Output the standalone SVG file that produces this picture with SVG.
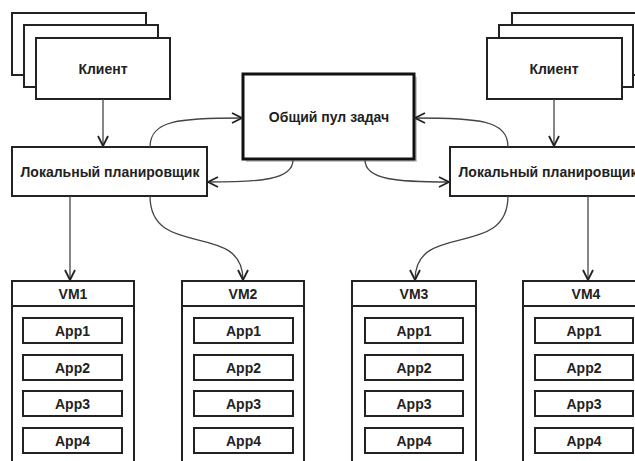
<svg xmlns="http://www.w3.org/2000/svg" width="635" height="461" viewBox="0 0 635 461">
<defs>
<style>
.b{fill:#fff;stroke:#222;stroke-width:2}
.t{font-family:"Liberation Sans",Arial,sans-serif;font-weight:bold;font-size:14px;fill:#222;text-anchor:middle;dominant-baseline:central}
.c{fill:none;stroke:#444;stroke-width:1.3}
</style>
<marker id="ah" viewBox="0 0 12 12" refX="11" refY="6" markerWidth="12" markerHeight="12" markerUnits="userSpaceOnUse" orient="auto">
<path d="M1,1 L11,6 L1,11" fill="none" stroke="#222" stroke-width="1.8"/>
</marker>
</defs>
<rect width="635" height="461" fill="#fff"/>
<g id="client-left">
<rect class="b" x="12" y="13" width="134" height="62"/>
<rect class="b" x="24" y="25" width="134" height="62"/>
<rect class="b" x="36" y="38" width="134" height="61"/>
<text class="t" x="103" y="69">Клиент</text>
</g>
<g id="client-right">
<rect class="b" x="512" y="13" width="134" height="62"/>
<rect class="b" x="499" y="25" width="134" height="62"/>
<rect class="b" x="487" y="38" width="135" height="61"/>
<text class="t" x="554" y="69">Клиент</text>
</g>
<g id="pool">
<rect x="246" y="77" width="171" height="85" fill="#c8c8c8"/>
<rect x="243" y="74" width="171" height="85" fill="#fff" stroke="#111" stroke-width="3"/>
<text class="t" x="329" y="117">Общий пул задач</text>
</g>
<g id="sched-left">
<rect class="b" x="12" y="147" width="195" height="49"/>
<text class="t" x="110" y="172">Локальный планировщик</text>
</g>
<g id="sched-right">
<rect class="b" x="450" y="147" width="195" height="49"/>
<text class="t" x="548" y="172">Локальный планировщик</text>
</g>
<g id="vm1">
<rect class="b" x="12" y="281" width="122" height="200"/>
<line x1="12" y1="306" x2="134" y2="306" stroke="#222" stroke-width="2"/>
<text class="t" x="73" y="294">VM1</text>
<rect class="b" x="23" y="318" width="99" height="25"/><text class="t" x="72.5" y="331">App1</text>
<rect class="b" x="23" y="355" width="99" height="25"/><text class="t" x="72.5" y="368">App2</text>
<rect class="b" x="23" y="391" width="99" height="25"/><text class="t" x="72.5" y="404">App3</text>
<rect class="b" x="23" y="428" width="99" height="25"/><text class="t" x="72.5" y="441">App4</text>
</g>
<g id="vm2">
<rect class="b" x="182" y="281" width="122" height="200"/>
<line x1="182" y1="306" x2="304" y2="306" stroke="#222" stroke-width="2"/>
<text class="t" x="243" y="294">VM2</text>
<rect class="b" x="194" y="318" width="99" height="25"/><text class="t" x="243.5" y="331">App1</text>
<rect class="b" x="194" y="355" width="99" height="25"/><text class="t" x="243.5" y="368">App2</text>
<rect class="b" x="194" y="391" width="99" height="25"/><text class="t" x="243.5" y="404">App3</text>
<rect class="b" x="194" y="428" width="99" height="25"/><text class="t" x="243.5" y="441">App4</text>
</g>
<g id="vm3">
<rect class="b" x="352" y="281" width="124" height="200"/>
<line x1="352" y1="306" x2="476" y2="306" stroke="#222" stroke-width="2"/>
<text class="t" x="414" y="294">VM3</text>
<rect class="b" x="365" y="318" width="98" height="25"/><text class="t" x="414" y="331">App1</text>
<rect class="b" x="365" y="355" width="98" height="25"/><text class="t" x="414" y="368">App2</text>
<rect class="b" x="365" y="391" width="98" height="25"/><text class="t" x="414" y="404">App3</text>
<rect class="b" x="365" y="428" width="98" height="25"/><text class="t" x="414" y="441">App4</text>
</g>
<g id="vm4">
<rect class="b" x="523" y="281" width="124" height="200"/>
<line x1="523" y1="306" x2="647" y2="306" stroke="#222" stroke-width="2"/>
<text class="t" x="586" y="294">VM4</text>
<rect class="b" x="535" y="318" width="98" height="25"/><text class="t" x="584" y="331">App1</text>
<rect class="b" x="535" y="355" width="98" height="25"/><text class="t" x="584" y="368">App2</text>
<rect class="b" x="535" y="391" width="98" height="25"/><text class="t" x="584" y="404">App3</text>
<rect class="b" x="535" y="428" width="98" height="25"/><text class="t" x="584" y="441">App4</text>
</g>
<g id="connectors">
<path class="c" d="M103,99 L103,146" marker-end="url(#ah)"/>
<path class="c" d="M554,99 L554,146" marker-end="url(#ah)"/>
<path class="c" d="M150,147 C150,120 180,118 242,118" marker-end="url(#ah)"/>
<path class="c" d="M293,160 C293,180 260,182 208,182" marker-end="url(#ah)"/>
<path class="c" d="M508,147 C508,120 478,118 415,118" marker-end="url(#ah)"/>
<path class="c" d="M365,160 C365,180 398,182 449,182" marker-end="url(#ah)"/>
<path class="c" d="M70,196 L70,280" marker-end="url(#ah)"/>
<path class="c" d="M588,196 L588,280" marker-end="url(#ah)"/>
<path class="c" d="M150,196 C150,260 243,220 243,280" marker-end="url(#ah)"/>
<path class="c" d="M508,196 C508,260 415,220 415,280" marker-end="url(#ah)"/>
</g>
</svg>
